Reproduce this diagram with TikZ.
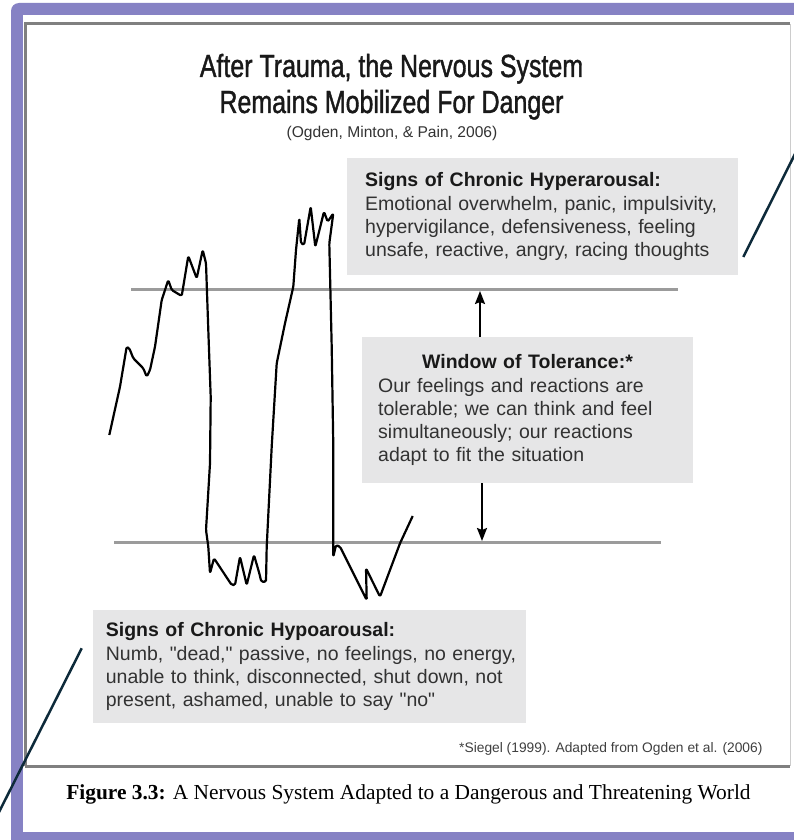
\documentclass[tikz,border=0pt]{standalone}
\usepackage{fontspec}
\setmainfont{Liberation Sans}
\newfontfamily\titlefont[FakeStretch=0.78,FakeBold=1.2]{Liberation Sans}
\newfontfamily\capfont{Liberation Serif}
\usetikzlibrary{arrows.meta}
\definecolor{frame}{HTML}{8682C4}
\definecolor{boxgray}{HTML}{E6E6E7}
\definecolor{linegray}{HTML}{9B9B9B}
\definecolor{ink}{HTML}{0D2A3A}
\definecolor{bodytext}{HTML}{323232}
\hyphenpenalty=10000

\begin{document}
\begin{tikzpicture}[x=1pt,y=-1pt,
		box/.style={fill=boxgray,anchor=north west,inner ysep=0pt,align=left,text=bodytext,font=\fontsize{19.5}{23.2}\selectfont},
		level/.style={draw=linegray,line width=3pt},
		wave/.style={line width=2.2pt,line join=round,rounded corners=1.5pt},
		arr/.style={line width=2pt,-{Stealth[length=13pt,width=10pt,inset=2pt]}},
		stray/.style={draw=ink,line width=2.5pt}]
			\useasboundingbox (0,0) rectangle (794,840);
			\clip (0,0) rectangle (794,840);
			\fill[white] (0,0) rectangle (794,840);
			\fill[frame,rounded corners=8pt] (11,3) rectangle (830,870);
			\fill[white] (23,15) rectangle (820,832);
			\draw[black!20,line width=1pt] (790,24) -- (790,766);
			\draw[black!50,line width=3pt] (25,766) -- (25,24) -- (790,24);
			\draw[black!50,line width=3pt] (25,766) -- (790,766);
			\coordinate (hitop) at (480,291);
			\coordinate (lowbot) at (482,541);
			\draw[level] (131,289.5) -- (678,289.5);
			\draw[level] (114,542.5) -- (661,542.5);
			\draw[wave] (109.3,435) -- (120,386.7) -- (126.7,346.7) -- (129.3,348.3) -- (133.3,358.3) -- (143.3,368.3) -- (146.7,376.7) -- (150,370) -- (155,346.7) -- (161.7,300) -- (168.3,280) -- (171.7,290) -- (181.7,296) -- (188.3,256) -- (196.7,278.3) -- (202.7,250) -- (206,263.3) -- (208.3,330) -- (210.7,396.7) -- (210,463.3) -- (206,530) -- (208.3,546.7) -- (210,573.3) -- (214,558.3) -- (231.7,585) -- (235,585) -- (240,556.7) -- (246.7,585) -- (254,555) -- (259.3,573.3) -- (261.3,581.7) -- (266,581.7) -- (266.7,546.7) -- (271.7,446.7) -- (276.7,363.3) -- (285,323.3) -- (293.3,286.7) -- (296,250) -- (299.3,218.3) -- (301,243.3) -- (304,245) -- (310.7,206.7) -- (315.3,246.7) -- (324,211.7) -- (327.7,221.7) -- (333.3,213.3) -- (329.3,243.3) -- (331.7,346.7) -- (333.3,446.7) -- (333.3,556.7) -- (336,545) -- (340,546.7) -- (366.7,600) -- (366,568.3) -- (380,596.7) -- (400,543.3) -- (412.7,516);
			\node[anchor=base,font=\titlefont\fontsize{32}{36}\selectfont,text=black!90] (title) at (391.5,77) {After Trauma, the Nervous System};
			\node[anchor=base,font=\titlefont\fontsize{32}{36}\selectfont,text=black!90] (subtitle) at (391.5,113) {Remains Mobilized For Danger};
			\node[anchor=base,font=\fontsize{15.6}{18}\selectfont,text=black!80] (cite) at (392,137) {(Ogden, Minton, \& Pain, 2006)};
			\node[box,inner xsep=18pt,text width=355pt,minimum height=117pt] (hyper) at (347,158) {{\color{black!90}\bfseries Signs of Chronic Hyperarousal:}\\Emotional overwhelm, panic, impulsivity,\\hypervigilance, defensiveness, feeling\\unsafe, reactive, angry, racing thoughts};
			\node[box,inner xsep=16pt,text width=298.6pt,minimum height=146pt] (window) at (362,337) {\makebox[\linewidth][c]{\color{black!90}\bfseries Window of Tolerance:*}\\Our feelings and reactions are\\tolerable; we can think and feel\\simultaneously; our reactions\\adapt to fit the situation};
			\node[box,inner xsep=13pt,text width=407.3pt,minimum height=113pt] (hypo) at (92.7,610) {{\color{black!90}\bfseries Signs of Chronic Hypoarousal:}\\\mbox{Numb, \textquotedbl dead,\textquotedbl\ passive, no feelings, no energy,}\\unable to think, disconnected, shut down, not\\present, ashamed, unable to say \textquotedbl no\textquotedbl};
			\draw[arr] (window.north -| hitop) -- (hitop);
			\draw[arr] (window.south -| lowbot) -- (lowbot);
			\node[anchor=base east,font=\fontsize{13.8}{16}\selectfont,text=black!75] (note) at (766,752) {*Siegel (1999). Adapted from Ogden et al. (2006)};
			\node[anchor=base,font=\capfont\fontsize{21.4}{24}\selectfont] (caption) at (408.5,799) {\textbf{Figure 3.3:} A Nervous System Adapted to a Dangerous and Threatening World};
			\draw[stray] (743.3,257) -- (800,144);
			\draw[stray] (81.7,648.3) -- (-4,818);
		\end{tikzpicture}
\end{document}
